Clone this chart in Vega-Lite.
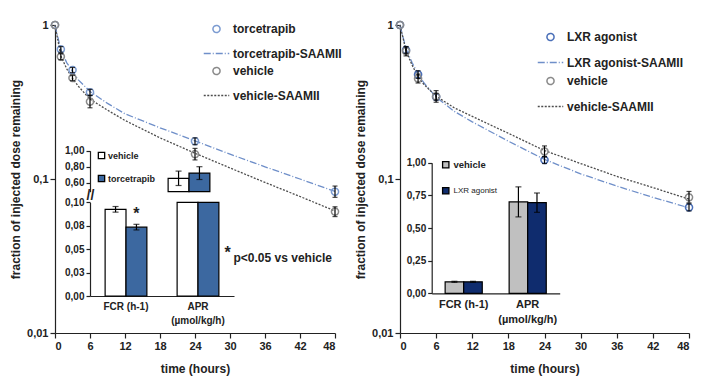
{
  "$schema": "https://vega.github.io/schema/vega-lite/v6.json",
  "background": "white",
  "padding": {"left": 9, "top": 18, "right": 5, "bottom": 5},
  "config": {
    "font": "Liberation Sans",
    "view": {"stroke": null},
    "axis": {"grid": false, "labelFontWeight": "bold", "titleFontWeight": "bold", "labelColor": "#222", "titleColor": "#222", "domainColor": "#222", "tickColor": "#222", "domainWidth": 1.2, "tickWidth": 1.2, "labelOverlap": false},
    "legend": {"labelColor": "#222"}
  },
  "datasets": {
    "left_pts": [
      {"series": "torcetrapib", "t": 0, "v": 1},
      {"series": "torcetrapib", "t": 1, "v": 0.695, "lo": 0.665, "hi": 0.725},
      {"series": "torcetrapib", "t": 3, "v": 0.51, "lo": 0.49, "hi": 0.53},
      {"series": "torcetrapib", "t": 6, "v": 0.366, "lo": 0.35, "hi": 0.382},
      {"series": "torcetrapib", "t": 24, "v": 0.176, "lo": 0.167, "hi": 0.185},
      {"series": "torcetrapib", "t": 48, "v": 0.0827, "lo": 0.076, "hi": 0.09},
      {"series": "vehicle", "t": 0, "v": 1},
      {"series": "vehicle", "t": 1, "v": 0.623, "lo": 0.595, "hi": 0.652},
      {"series": "vehicle", "t": 3, "v": 0.453, "lo": 0.435, "hi": 0.472},
      {"series": "vehicle", "t": 6, "v": 0.318, "lo": 0.29, "hi": 0.348},
      {"series": "vehicle", "t": 24, "v": 0.145, "lo": 0.133, "hi": 0.158},
      {"series": "vehicle", "t": 48, "v": 0.0614, "lo": 0.057, "hi": 0.066}
    ],
    "left_fit": [
      {"series": "torcetrapib-SAAMII", "t": 0, "v": 1},
      {"series": "torcetrapib-SAAMII", "t": 1, "v": 0.69},
      {"series": "torcetrapib-SAAMII", "t": 2, "v": 0.57},
      {"series": "torcetrapib-SAAMII", "t": 3, "v": 0.5},
      {"series": "torcetrapib-SAAMII", "t": 4, "v": 0.44},
      {"series": "torcetrapib-SAAMII", "t": 6, "v": 0.37},
      {"series": "torcetrapib-SAAMII", "t": 9, "v": 0.31},
      {"series": "torcetrapib-SAAMII", "t": 12, "v": 0.265},
      {"series": "torcetrapib-SAAMII", "t": 18, "v": 0.215},
      {"series": "torcetrapib-SAAMII", "t": 24, "v": 0.177},
      {"series": "torcetrapib-SAAMII", "t": 30, "v": 0.145},
      {"series": "torcetrapib-SAAMII", "t": 36, "v": 0.12},
      {"series": "torcetrapib-SAAMII", "t": 42, "v": 0.1},
      {"series": "torcetrapib-SAAMII", "t": 48, "v": 0.083},
      {"series": "vehicle-SAAMII", "t": 0, "v": 1},
      {"series": "vehicle-SAAMII", "t": 1, "v": 0.63},
      {"series": "vehicle-SAAMII", "t": 2, "v": 0.52},
      {"series": "vehicle-SAAMII", "t": 3, "v": 0.45},
      {"series": "vehicle-SAAMII", "t": 4, "v": 0.4},
      {"series": "vehicle-SAAMII", "t": 6, "v": 0.33},
      {"series": "vehicle-SAAMII", "t": 9, "v": 0.28},
      {"series": "vehicle-SAAMII", "t": 12, "v": 0.24},
      {"series": "vehicle-SAAMII", "t": 18, "v": 0.185},
      {"series": "vehicle-SAAMII", "t": 24, "v": 0.147},
      {"series": "vehicle-SAAMII", "t": 30, "v": 0.118},
      {"series": "vehicle-SAAMII", "t": 36, "v": 0.095},
      {"series": "vehicle-SAAMII", "t": 42, "v": 0.077},
      {"series": "vehicle-SAAMII", "t": 48, "v": 0.062}
    ],
    "left_inset": [
      {"metric": "FCR", "group": "vehicle", "value": 0.0925, "lo": 0.0895, "hi": 0.0955},
      {"metric": "FCR", "group": "torcetrapib", "value": 0.0735, "lo": 0.0705, "hi": 0.0765},
      {"metric": "APR", "group": "vehicle", "value": 0.655, "lo": 0.565, "hi": 0.745},
      {"metric": "APR", "group": "torcetrapib", "value": 0.72, "lo": 0.64, "hi": 0.8}
    ],
    "right_pts": [
      {"series": "LXR agonist", "t": 0, "v": 1},
      {"series": "LXR agonist", "t": 1, "v": 0.687, "lo": 0.655, "hi": 0.72},
      {"series": "LXR agonist", "t": 3, "v": 0.477, "lo": 0.45, "hi": 0.505},
      {"series": "LXR agonist", "t": 6, "v": 0.341, "lo": 0.325, "hi": 0.358},
      {"series": "LXR agonist", "t": 24, "v": 0.133, "lo": 0.126, "hi": 0.14},
      {"series": "LXR agonist", "t": 48, "v": 0.0654, "lo": 0.062, "hi": 0.069},
      {"series": "vehicle", "t": 0, "v": 1},
      {"series": "vehicle", "t": 1, "v": 0.676, "lo": 0.63, "hi": 0.725},
      {"series": "vehicle", "t": 3, "v": 0.449, "lo": 0.42, "hi": 0.48},
      {"series": "vehicle", "t": 6, "v": 0.344, "lo": 0.315, "hi": 0.375},
      {"series": "vehicle", "t": 24, "v": 0.151, "lo": 0.139, "hi": 0.164},
      {"series": "vehicle", "t": 48, "v": 0.076, "lo": 0.07, "hi": 0.083}
    ],
    "right_fit": [
      {"series": "LXR agonist-SAAMII", "t": 0, "v": 1},
      {"series": "LXR agonist-SAAMII", "t": 1, "v": 0.7},
      {"series": "LXR agonist-SAAMII", "t": 2, "v": 0.57},
      {"series": "LXR agonist-SAAMII", "t": 3, "v": 0.48},
      {"series": "LXR agonist-SAAMII", "t": 4, "v": 0.42},
      {"series": "LXR agonist-SAAMII", "t": 6, "v": 0.34},
      {"series": "LXR agonist-SAAMII", "t": 9, "v": 0.275},
      {"series": "LXR agonist-SAAMII", "t": 12, "v": 0.235},
      {"series": "LXR agonist-SAAMII", "t": 18, "v": 0.176},
      {"series": "LXR agonist-SAAMII", "t": 24, "v": 0.134},
      {"series": "LXR agonist-SAAMII", "t": 30, "v": 0.108},
      {"series": "LXR agonist-SAAMII", "t": 36, "v": 0.09},
      {"series": "LXR agonist-SAAMII", "t": 42, "v": 0.076},
      {"series": "LXR agonist-SAAMII", "t": 48, "v": 0.065},
      {"series": "vehicle-SAAMII", "t": 0, "v": 1},
      {"series": "vehicle-SAAMII", "t": 1, "v": 0.68},
      {"series": "vehicle-SAAMII", "t": 2, "v": 0.55},
      {"series": "vehicle-SAAMII", "t": 3, "v": 0.46},
      {"series": "vehicle-SAAMII", "t": 4, "v": 0.41},
      {"series": "vehicle-SAAMII", "t": 6, "v": 0.345},
      {"series": "vehicle-SAAMII", "t": 9, "v": 0.29},
      {"series": "vehicle-SAAMII", "t": 12, "v": 0.255},
      {"series": "vehicle-SAAMII", "t": 18, "v": 0.198},
      {"series": "vehicle-SAAMII", "t": 24, "v": 0.153},
      {"series": "vehicle-SAAMII", "t": 30, "v": 0.126},
      {"series": "vehicle-SAAMII", "t": 36, "v": 0.104},
      {"series": "vehicle-SAAMII", "t": 42, "v": 0.088},
      {"series": "vehicle-SAAMII", "t": 48, "v": 0.074}
    ],
    "right_inset": [
      {"metric": "FCR", "group": "vehicle", "value": 0.088, "lo": 0.084, "hi": 0.092},
      {"metric": "FCR", "group": "LXR agonist", "value": 0.088, "lo": 0.084, "hi": 0.092},
      {"metric": "APR", "group": "vehicle", "value": 0.7, "lo": 0.585, "hi": 0.815},
      {"metric": "APR", "group": "LXR agonist", "value": 0.694, "lo": 0.62, "hi": 0.768}
    ]
  },
  "hconcat": [
    {
      "width": 280,
      "height": 308,
      "layer": [
        {
          "layer": [
            {
              "data": {"name": "left_fit"},
              "mark": {"type": "line", "strokeWidth": 1.3},
              "encoding": {
                "x": {"field": "t", "type": "quantitative", "scale": {"domain": [0, 48], "nice": false}, "axis": {"orient": "bottom", "values": [0, 6, 12, 18, 24, 30, 36, 42, 48], "tickCount": 20, "labelOverlap": false, "title": "time (hours)", "titleFontSize": 12, "titlePadding": 12, "labelFontSize": 11, "tickSize": 5}},
                "y": {"field": "v", "type": "quantitative", "scale": {"type": "log", "domain": [0.01, 1], "nice": false}, "axis": {"orient": "left", "values": [0.01, 0.1, 1], "labelExpr": "replace(format(datum.value, '~g'), '.', ',')", "title": "fraction of injected dose remaining", "titleFontSize": 12, "labelFontSize": 11, "tickSize": 5}},
                "color": {"field": "series", "type": "nominal", "scale": {"domain": ["torcetrapib", "torcetrapib-SAAMII", "vehicle", "vehicle-SAAMII"], "range": ["#7b9bd1", "#6f8fc9", "#8a8a8a", "#4d4d4d"]}, "legend": {"orient": "none", "legendX": 143, "legendY": -7, "padding": 5, "title": null, "labelFontSize": 12, "labelFontWeight": "bold", "symbolStrokeWidth": 1.5, "rowPadding": 4, "labelOffset": 3}},
                "strokeDash": {"field": "series", "type": "nominal", "scale": {"domain": ["torcetrapib", "torcetrapib-SAAMII", "vehicle", "vehicle-SAAMII"], "range": [[1, 0], [7, 2, 1, 2], [1, 0], [2, 1.5]]}}
              }
            },
            {
              "data": {"name": "left_pts"},
              "mark": {"type": "point", "filled": false, "strokeWidth": 1.5, "opacity": 1},
              "encoding": {
                "x": {"field": "t", "type": "quantitative"},
                "y": {"field": "v", "type": "quantitative"},
                "color": {"field": "series", "type": "nominal"},
                "strokeDash": {"field": "series", "type": "nominal"},
                "shape": {"field": "series", "type": "nominal", "scale": {"domain": ["torcetrapib", "torcetrapib-SAAMII", "vehicle", "vehicle-SAAMII"], "range": ["circle", "stroke", "circle", "stroke"]}},
                "size": {"field": "series", "type": "nominal", "scale": {"type": "ordinal", "domain": ["torcetrapib", "torcetrapib-SAAMII", "vehicle", "vehicle-SAAMII"], "range": [50, 650, 50, 650]}}
              }
            },
            {
              "data": {"name": "left_pts"},
              "transform": [{"filter": "isValid(datum.lo)"}],
              "mark": {"type": "rule", "color": "black", "strokeWidth": 1.2},
              "encoding": {
                "x": {"field": "t", "type": "quantitative"},
                "y": {"field": "lo", "type": "quantitative"},
                "y2": {"field": "hi"}
              }
            },
            {
              "data": {"name": "left_pts"},
              "transform": [{"filter": "isValid(datum.lo)"}, {"fold": ["lo", "hi"], "as": ["end", "ev"]}],
              "mark": {"type": "tick", "orient": "horizontal", "color": "black", "thickness": 1.2, "size": 5},
              "encoding": {
                "x": {"field": "t", "type": "quantitative"},
                "y": {"field": "ev", "type": "quantitative"}
              }
            },
            {
              "data": {"values": [{}]},
              "mark": {"type": "text", "text": "p<0.05 vs vehicle", "align": "left", "baseline": "middle", "fontSize": 12, "fontWeight": "bold", "color": "#222"},
              "encoding": {
                "x": {"datum": 30.6, "type": "quantitative"},
                "y": {"datum": 0.0307, "type": "quantitative"}
              }
            },
            {
              "data": {"values": [{}]},
              "mark": {"type": "text", "text": "*", "align": "center", "baseline": "middle", "fontSize": 16, "fontWeight": "bold", "color": "#222"},
              "encoding": {
                "x": {"datum": 29.6, "type": "quantitative"},
                "y": {"datum": 0.033, "type": "quantitative"}
              }
            }
          ]
        },
        {
          "data": {"name": "left_inset"},
          "layer": [
            {
              "mark": {"type": "bar", "stroke": "black", "strokeWidth": 1.2},
              "encoding": {
                "x": {"field": "metric", "type": "nominal", "sort": null, "scale": {"domain": ["FCR", "APR"], "range": [35, 179], "paddingInner": 0.42, "paddingOuter": 0.21}, "axis": {"orient": "bottom", "offset": -37, "title": null, "labelAngle": 0, "labelFontSize": 10, "labelLineHeight": 14, "labelPadding": 5, "ticks": false, "labelExpr": "datum.value == 'APR' ? ['APR', '(µmol/kg/h)'] : 'FCR (h-1)'"}},
                "xOffset": {"field": "group", "type": "nominal", "scale": {"domain": ["vehicle", "torcetrapib"]}},
                "y": {"field": "value", "type": "quantitative", "scale": {"domain": [0, 0.1], "range": [271, 177.3], "clamp": true, "nice": false}, "axis": {"orient": "left", "offset": -35, "values": [0, 0.025, 0.05, 0.075, 0.1], "tickCount": 10, "labelExpr": "replace(format(datum.value + 0.0001, '.2f'), '.', ',')", "title": null, "labelFontSize": 10, "tickSize": 4}},
                "fill": {"field": "group", "type": "nominal", "scale": {"domain": ["vehicle", "torcetrapib"], "range": ["#ffffff", "#3c68a0"]}, "legend": {"orient": "none", "legendX": 42, "legendY": 126, "title": null, "symbolType": "square", "symbolSize": 40, "symbolStrokeColor": "black", "symbolStrokeWidth": 1.3, "labelFontSize": 9, "labelFontWeight": "bold", "rowPadding": 10, "labelOffset": 2}}
              }
            },
            {
              "transform": [{"filter": "datum.metric == 'FCR'"}],
              "mark": {"type": "rule", "color": "black", "strokeWidth": 1.2},
              "encoding": {
                "x": {"field": "metric", "type": "nominal"},
                "xOffset": {"field": "group", "type": "nominal"},
                "y": {"field": "lo", "type": "quantitative"},
                "y2": {"field": "hi"}
              }
            },
            {
              "transform": [{"filter": "datum.metric == 'FCR'"}, {"fold": ["lo", "hi"], "as": ["end", "ev"]}],
              "mark": {"type": "tick", "color": "black", "thickness": 1.2, "size": 6},
              "encoding": {
                "x": {"field": "metric", "type": "nominal"},
                "xOffset": {"field": "group", "type": "nominal"},
                "y": {"field": "ev", "type": "quantitative"}
              }
            },
            {
              "data": {"values": [{}]},
              "mark": {"type": "text", "text": "*", "fontSize": 16, "fontWeight": "bold", "baseline": "middle", "color": "#222"},
              "encoding": {
                "x": {"datum": "FCR", "type": "nominal"},
                "xOffset": {"datum": "torcetrapib", "type": "nominal"},
                "y": {"datum": 0.087, "type": "quantitative"}
              }
            }
          ]
        },
        {
          "data": {"name": "left_inset"},
          "transform": [{"filter": "datum.metric == 'APR'"}],
          "layer": [
            {
              "mark": {"type": "bar", "stroke": "black", "strokeWidth": 1.2},
              "encoding": {
                "x": {"field": "metric", "type": "nominal", "sort": null, "scale": {"domain": ["FCR", "APR"], "range": [26, 170], "paddingInner": 0.42, "paddingOuter": 0.21}, "axis": null},
                "xOffset": {"field": "group", "type": "nominal", "scale": {"domain": ["vehicle", "torcetrapib"]}},
                "y": {"field": "value", "type": "quantitative", "scale": {"domain": [0.4875, 1], "range": [166.7, 125.7], "nice": false, "zero": false}, "axis": {"orient": "left", "offset": -35, "values": [0.6, 0.8, 1], "tickCount": 10, "labelExpr": "replace(format(datum.value, '.2f'), '.', ',')", "title": "//", "titleAngle": 0, "titleX": 0, "titleY": 170, "titleAlign": "center", "titleBaseline": "middle", "titleFontSize": 14, "labelFontSize": 10, "tickSize": 4}},
                "y2": {"datum": 0.4875},
                "fill": {"field": "group", "type": "nominal", "legend": null}
              }
            },
            {
              "mark": {"type": "rule", "color": "black", "strokeWidth": 1.2},
              "encoding": {
                "x": {"field": "metric", "type": "nominal"},
                "xOffset": {"field": "group", "type": "nominal"},
                "y": {"field": "lo", "type": "quantitative"},
                "y2": {"field": "hi"}
              }
            },
            {
              "transform": [{"fold": ["lo", "hi"], "as": ["end", "ev"]}],
              "mark": {"type": "tick", "color": "black", "thickness": 1.2, "size": 6},
              "encoding": {
                "x": {"field": "metric", "type": "nominal"},
                "xOffset": {"field": "group", "type": "nominal"},
                "y": {"field": "ev", "type": "quantitative"}
              }
            }
          ]
        }
      ],
      "resolve": {"scale": {"x": "independent", "y": "independent", "xOffset": "independent"}, "axis": {"x": "independent", "y": "independent"}}
    },
    {
      "width": 289,
      "height": 308,
      "layer": [
        {
          "layer": [
            {
              "data": {"name": "right_fit"},
              "mark": {"type": "line", "strokeWidth": 1.3},
              "encoding": {
                "x": {"field": "t", "type": "quantitative", "scale": {"domain": [0, 48], "nice": false}, "axis": {"orient": "bottom", "values": [0, 6, 12, 18, 24, 30, 36, 42, 48], "tickCount": 20, "labelOverlap": false, "title": "time (hours)", "titleFontSize": 12, "titlePadding": 12, "labelFontSize": 11, "tickSize": 5}},
                "y": {"field": "v", "type": "quantitative", "scale": {"type": "log", "domain": [0.01, 1], "nice": false}, "axis": {"orient": "left", "values": [0.01, 0.1, 1], "labelExpr": "replace(format(datum.value, '~g'), '.', ',')", "title": "fraction of injected dose remaining", "titleFontSize": 12, "labelFontSize": 11, "tickSize": 5}},
                "color": {"field": "series", "type": "nominal", "scale": {"domain": ["LXR agonist", "LXR agonist-SAAMII", "vehicle", "vehicle-SAAMII"], "range": ["#4a6fb8", "#6f8fc9", "#8a8a8a", "#4d4d4d"]}, "legend": {"orient": "none", "legendX": 137, "legendY": 6, "title": null, "labelFontSize": 12, "labelFontWeight": "bold", "symbolStrokeWidth": 1.5, "rowPadding": 5, "labelOffset": 3}},
                "strokeDash": {"field": "series", "type": "nominal", "scale": {"domain": ["LXR agonist", "LXR agonist-SAAMII", "vehicle", "vehicle-SAAMII"], "range": [[1, 0], [7, 2, 1, 2], [1, 0], [2, 1.5]]}}
              }
            },
            {
              "data": {"name": "right_pts"},
              "mark": {"type": "point", "filled": false, "strokeWidth": 1.5, "opacity": 1},
              "encoding": {
                "x": {"field": "t", "type": "quantitative"},
                "y": {"field": "v", "type": "quantitative"},
                "color": {"field": "series", "type": "nominal"},
                "strokeDash": {"field": "series", "type": "nominal"},
                "shape": {"field": "series", "type": "nominal", "scale": {"domain": ["LXR agonist", "LXR agonist-SAAMII", "vehicle", "vehicle-SAAMII"], "range": ["circle", "stroke", "circle", "stroke"]}},
                "size": {"field": "series", "type": "nominal", "scale": {"type": "ordinal", "domain": ["LXR agonist", "LXR agonist-SAAMII", "vehicle", "vehicle-SAAMII"], "range": [50, 650, 50, 650]}}
              }
            },
            {
              "data": {"name": "right_pts"},
              "transform": [{"filter": "isValid(datum.lo)"}],
              "mark": {"type": "rule", "color": "black", "strokeWidth": 1.2},
              "encoding": {
                "x": {"field": "t", "type": "quantitative"},
                "y": {"field": "lo", "type": "quantitative"},
                "y2": {"field": "hi"}
              }
            },
            {
              "data": {"name": "right_pts"},
              "transform": [{"filter": "isValid(datum.lo)"}, {"fold": ["lo", "hi"], "as": ["end", "ev"]}],
              "mark": {"type": "tick", "orient": "horizontal", "color": "black", "thickness": 1.2, "size": 5},
              "encoding": {
                "x": {"field": "t", "type": "quantitative"},
                "y": {"field": "ev", "type": "quantitative"}
              }
            }
          ]
        },
        {
          "data": {"name": "right_inset"},
          "layer": [
            {
              "mark": {"type": "bar", "stroke": "black", "strokeWidth": 1.2},
              "encoding": {
                "x": {"field": "metric", "type": "nominal", "sort": null, "scale": {"domain": ["FCR", "APR"], "range": [31.7, 159.7], "paddingInner": 0.42, "paddingOuter": 0.21}, "axis": {"orient": "bottom", "offset": -39.7, "title": null, "labelAngle": 0, "labelFontSize": 11, "labelLineHeight": 15, "labelPadding": 5, "ticks": false, "labelExpr": "datum.value == 'APR' ? ['APR', '(µmol/kg/h)'] : 'FCR (h-1)'"}},
                "xOffset": {"field": "group", "type": "nominal", "scale": {"domain": ["vehicle", "LXR agonist"]}},
                "y": {"field": "value", "type": "quantitative", "scale": {"domain": [0, 1], "range": [268.3, 137.7], "nice": false}, "axis": {"orient": "left", "offset": -31.7, "values": [0, 0.25, 0.5, 0.75, 1], "tickCount": 10, "labelExpr": "replace(format(datum.value, '.2f'), '.', ',')", "title": null, "labelFontSize": 10, "tickSize": 4}},
                "fill": {"field": "group", "type": "nominal", "scale": {"domain": ["vehicle", "LXR agonist"], "range": ["#c0c0c0", "#0f2c6e"]}, "legend": {"orient": "none", "legendX": 41, "legendY": 135, "title": null, "symbolType": "square", "symbolSize": 40, "symbolStrokeColor": "black", "symbolStrokeWidth": 1.3, "labelFontSize": 9, "labelFontWeight": "bold", "rowPadding": 13, "labelOffset": 3, "encode": {"labels": {"update": {"fontWeight": {"signal": "datum.label == 'LXR agonist' ? 'normal' : 'bold'"}, "fontSize": {"signal": "datum.label == 'LXR agonist' ? 8 : 9.5"}}}}}}
              }
            },
            {
              "mark": {"type": "rule", "color": "black", "strokeWidth": 1.2},
              "encoding": {
                "x": {"field": "metric", "type": "nominal"},
                "xOffset": {"field": "group", "type": "nominal"},
                "y": {"field": "lo", "type": "quantitative"},
                "y2": {"field": "hi"}
              }
            },
            {
              "transform": [{"fold": ["lo", "hi"], "as": ["end", "ev"]}],
              "mark": {"type": "tick", "color": "black", "thickness": 1.2, "size": 6},
              "encoding": {
                "x": {"field": "metric", "type": "nominal"},
                "xOffset": {"field": "group", "type": "nominal"},
                "y": {"field": "ev", "type": "quantitative"}
              }
            }
          ]
        }
      ],
      "resolve": {"scale": {"x": "independent", "y": "independent", "xOffset": "independent"}, "axis": {"x": "independent", "y": "independent"}}
    }
  ],
  "spacing": 65,
  "bounds": "flush",
  "resolve": {
    "scale": {"color": "independent", "shape": "independent", "strokeDash": "independent", "size": "independent", "fill": "independent"},
    "legend": {"color": "independent", "shape": "independent", "strokeDash": "independent", "size": "independent", "fill": "independent"}
  }
}
